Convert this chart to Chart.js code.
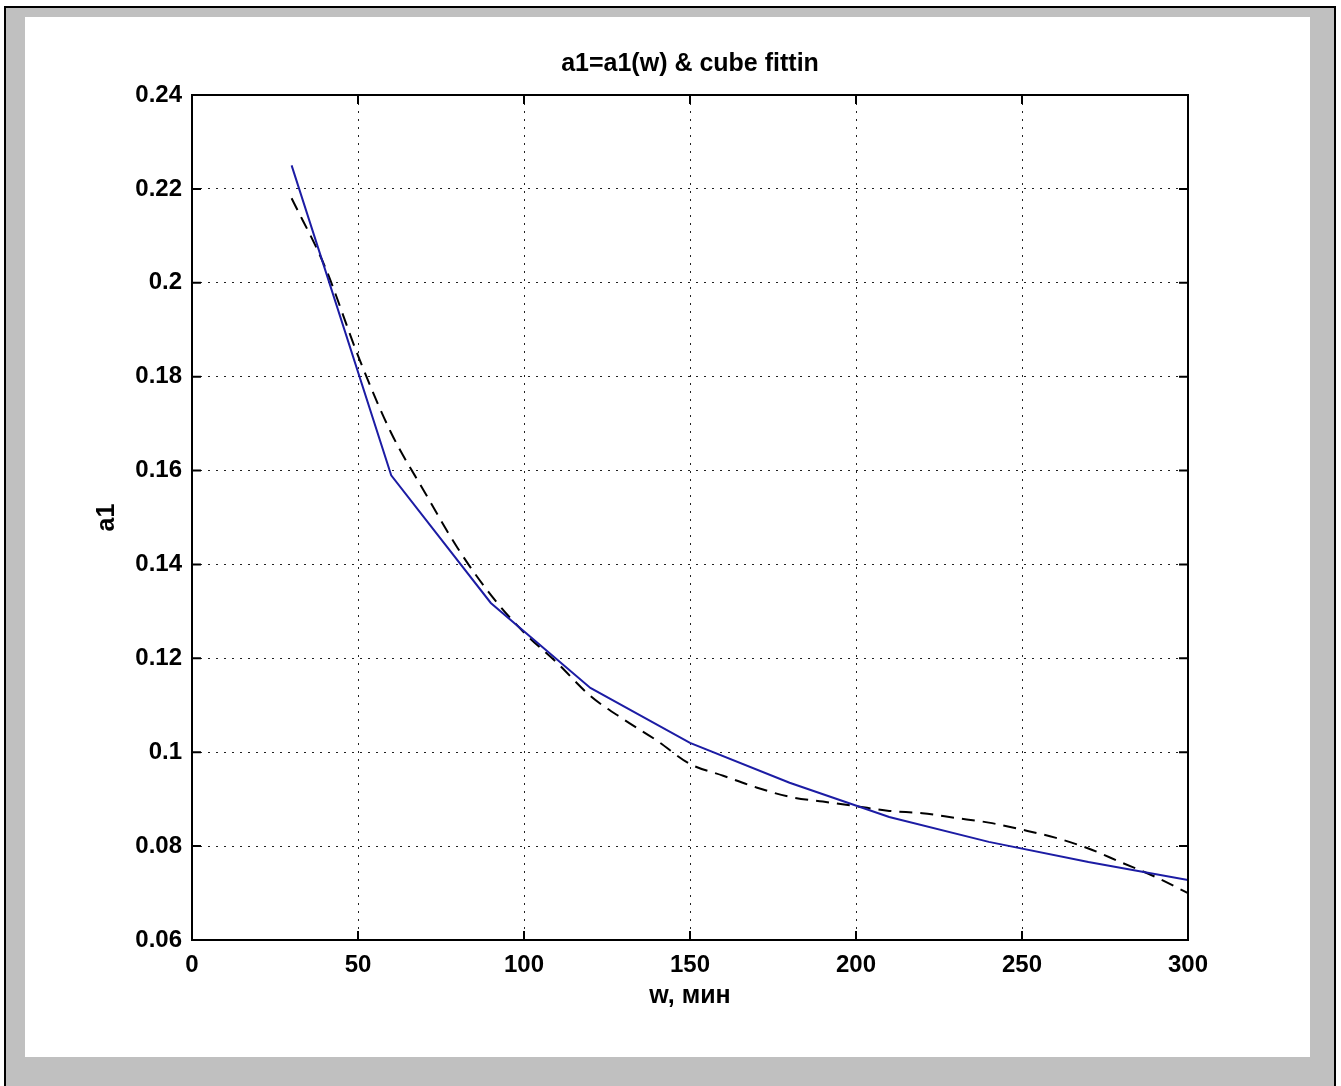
<!DOCTYPE html>
<html>
<head>
<meta charset="utf-8">
<title>a1=a1(w) & cube fittin</title>
<script src="https://cdn.jsdelivr.net/npm/chart.js"></script>
<style>
    html, body {
        margin: 0;
        padding: 0;
        background: #ffffff;
        overflow: hidden;
    }
    .frame {
        position: absolute;
        left: 4px;
        top: 6px;
        width: 1328px;
        height: 1100px;
        border-left: 2px solid #000;
        border-top: 2px solid #000;
        border-right: 2px solid #000;
        background: #c0c0c0;
    }
    .panel {
        position: absolute;
        left: 25px;
        top: 17px;
        width: 1285px;
        height: 1040px;
        background: #ffffff;
    }
    #a1-chart {
        position: absolute;
        left: 0;
        top: 0;
    }
</style>
</head>
<body>
<div class="frame"></div>
<div class="panel">
    <canvas id="a1-chart" width="1285" height="1040"></canvas>
</div>
<script>
// measured a1 values vs w (solid blue)
const wMeasured = [30, 60, 90, 120, 150, 180, 210, 240, 270, 300];
const a1Measured = [0.225, 0.159, 0.1318, 0.1137, 0.102, 0.0935, 0.0862, 0.0809, 0.0766, 0.0728];

// cube fitting curve (dashed black)
const wFit = [30, 40, 50, 60, 70, 80, 90, 100, 110, 120, 130, 140, 150, 160,
    170, 180, 190, 200, 210, 220, 230, 240, 250, 260, 270, 280, 290, 300];
const a1Fit = [0.218, 0.2035, 0.1845, 0.168, 0.1555, 0.1435, 0.1335, 0.1255, 0.119, 0.112,
    0.107, 0.1025, 0.0975, 0.095, 0.0925, 0.0905, 0.0895, 0.0885, 0.0875, 0.087,
    0.086, 0.085, 0.0835, 0.0818, 0.0795, 0.0765, 0.0735, 0.070];

// axis ticks
const xTicks = [0, 50, 100, 150, 200, 250, 300];
const yTicks = [0.06, 0.08, 0.1, 0.12, 0.14, 0.16, 0.18, 0.2, 0.22, 0.24];

const FONT = '"Liberation Sans", Arial, Helvetica, sans-serif';
Chart.defaults.font.family = FONT;
Chart.defaults.color = '#000';

function toPoints(xs, ys) {
    return xs.map((x, i) => ({ x: x, y: ys[i] }));
}

// MATLAB style box with inward ticks on all four sides
const boxPlugin = {
    id: 'matlabBox',
    afterDraw(chart) {
        const { ctx, chartArea: area, scales } = chart;
        const tickLen = 9;
        ctx.save();
        ctx.strokeStyle = '#000';
        ctx.lineWidth = 2;
        ctx.setLineDash([]);
        xTicks.forEach(v => {
            const px = scales.x.getPixelForValue(v);
            ctx.beginPath();
            ctx.moveTo(px, area.bottom);
            ctx.lineTo(px, area.bottom - tickLen);
            ctx.moveTo(px, area.top);
            ctx.lineTo(px, area.top + tickLen);
            ctx.stroke();
        });
        yTicks.forEach(v => {
            const py = scales.y.getPixelForValue(v);
            ctx.beginPath();
            ctx.moveTo(area.left, py);
            ctx.lineTo(area.left + tickLen, py);
            ctx.moveTo(area.right, py);
            ctx.lineTo(area.right - tickLen, py);
            ctx.stroke();
        });
        ctx.strokeRect(area.left, area.top, area.right - area.left, area.bottom - area.top);
        ctx.restore();
    }
};

const gridDots = {
    color: '#222',
    lineWidth: 1,
    drawTicks: false
};

new Chart(document.getElementById('a1-chart'), {
    type: 'line',
    data: {
        datasets: [{
            label: 'a1(w)',
            data: toPoints(wMeasured, a1Measured),
            borderColor: '#1c1ca4',
            borderWidth: 2,
            pointRadius: 0,
            tension: 0,
            fill: false
        }, {
            label: 'cube fit',
            data: toPoints(wFit, a1Fit),
            borderColor: '#000',
            borderWidth: 2,
            borderDash: [13, 8],
            pointRadius: 0,
            cubicInterpolationMode: 'monotone',
            fill: false
        }]
    },
    options: {
        responsive: false,
        animation: false,
        devicePixelRatio: 1,
        layout: {
            padding: { left: 0, top: 0, right: 122, bottom: 0 }
        },
        plugins: {
            legend: { display: false },
            tooltip: { enabled: false },
            title: {
                display: true,
                fullSize: false,
                text: 'a1=a1(w) & cube fittin',
                color: '#000',
                font: { size: 25, weight: 'bold', lineHeight: 1.2 },
                padding: { top: 32, bottom: 16 }
            }
        },
        scales: {
            x: {
                type: 'linear',
                min: 0,
                max: 300,
                afterFit: scale => { scale.height = 117; },
                afterBuildTicks: scale => { scale.ticks = xTicks.map(v => ({ value: v })); },
                ticks: {
                    padding: 11,
                    maxRotation: 0,
                    font: { size: 24, weight: 'bold' },
                    color: '#000'
                },
                grid: gridDots,
                border: { display: false, dash: [2, 6] },
                title: {
                    display: true,
                    text: 'w, мин',
                    color: '#000',
                    font: { size: 25, weight: 'bold', lineHeight: 1.2 },
                    padding: { top: 0, bottom: 46 }
                }
            },
            y: {
                type: 'linear',
                min: 0.06,
                max: 0.24,
                afterFit: scale => { scale.width = 167; },
                afterBuildTicks: scale => { scale.ticks = yTicks.map(v => ({ value: v })); },
                ticks: {
                    padding: 10,
                    font: { size: 24, weight: 'bold' },
                    color: '#000',
                    callback: value => String(+value.toFixed(2))
                },
                grid: gridDots,
                border: { display: false, dash: [2, 6] },
                title: {
                    display: true,
                    text: 'a1',
                    color: '#000',
                    font: { size: 25, weight: 'bold', lineHeight: 1.2 },
                    padding: { top: 67, bottom: 0 }
                }
            }
        }
    },
    plugins: [boxPlugin]
});
</script>
</body>
</html>
